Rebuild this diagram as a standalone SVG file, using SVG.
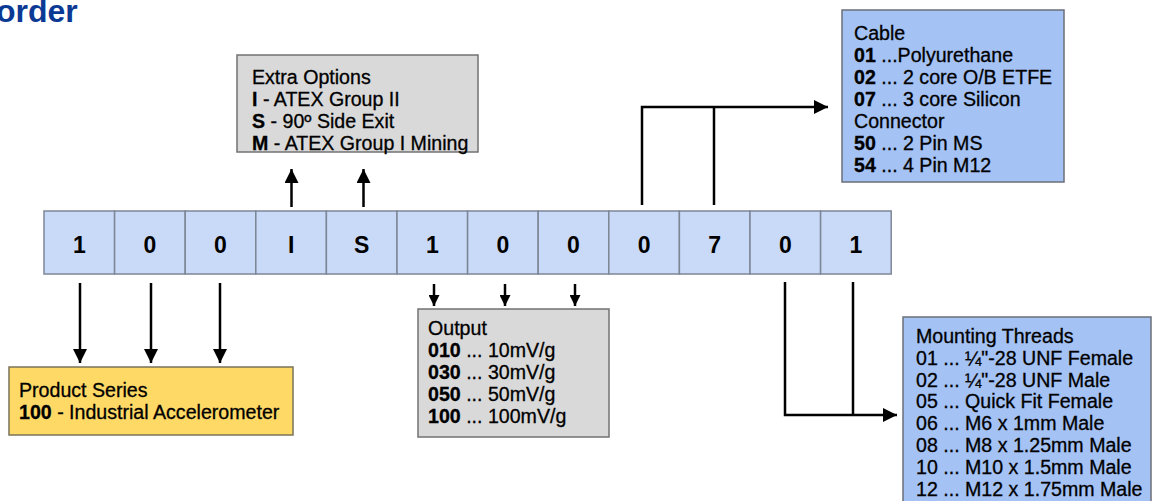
<svg xmlns="http://www.w3.org/2000/svg" width="1154" height="501" viewBox="0 0 1154 501">
<defs>
<style>
.t{font-family:"Liberation Sans",Arial,sans-serif;font-size:19.6px;fill:#000;stroke:#000;stroke-width:0.3}
.b{font-weight:bold}
.cell{fill:#c9daf8;stroke:#7d8796;stroke-width:1.5}
.dig{font-family:"Liberation Sans",Arial,sans-serif;font-size:23px;font-weight:bold;text-anchor:middle;fill:#000}
.blue{fill:#a4c2f4;stroke:#6b6f78;stroke-width:1.5}
.gray{fill:#d9d9d9;stroke:#727272;stroke-width:1.5}
.yel{fill:#ffd966;stroke:#7a7358;stroke-width:1.5}
.ln{fill:none;stroke:#000;stroke-width:2.5}
</style>
<marker id="ah" viewBox="0 0 10 10" refX="10" refY="5" markerWidth="14" markerHeight="14" markerUnits="userSpaceOnUse" orient="auto">
<path d="M0,0 L10,5 L0,10 Z" fill="#000"/>
</marker>
<marker id="ahs" viewBox="0 0 10 10" refX="10" refY="5" markerWidth="11" markerHeight="11" markerUnits="userSpaceOnUse" orient="auto">
<path d="M0,0 L10,5 L0,10 Z" fill="#000"/>
</marker>
</defs>
<rect width="1154" height="501" fill="#fff"/>
<text x="-4" y="22" font-family="Liberation Sans,Arial,sans-serif" font-size="32" font-weight="bold" fill="#0b3a94">order</text>

<g id="code">
<rect class="cell" x="44" y="211" width="70.6" height="63"/>
<rect class="cell" x="114.6" y="211" width="70.6" height="63"/>
<rect class="cell" x="185.2" y="211" width="70.6" height="63"/>
<rect class="cell" x="255.8" y="211" width="70.6" height="63"/>
<rect class="cell" x="326.4" y="211" width="70.6" height="63"/>
<rect class="cell" x="397" y="211" width="70.6" height="63"/>
<rect class="cell" x="467.6" y="211" width="70.6" height="63"/>
<rect class="cell" x="538.2" y="211" width="70.6" height="63"/>
<rect class="cell" x="608.8" y="211" width="70.6" height="63"/>
<rect class="cell" x="679.4" y="211" width="70.6" height="63"/>
<rect class="cell" x="750" y="211" width="70.6" height="63"/>
<rect class="cell" x="820.6" y="211" width="70.6" height="63"/>
<text class="dig" x="79.3" y="253">1</text>
<text class="dig" x="149.9" y="253">0</text>
<text class="dig" x="220.5" y="253">0</text>
<text class="dig" x="291.1" y="253">I</text>
<text class="dig" x="361.7" y="253">S</text>
<text class="dig" x="432.3" y="253">1</text>
<text class="dig" x="502.9" y="253">0</text>
<text class="dig" x="573.5" y="253">0</text>
<text class="dig" x="644.1" y="253">0</text>
<text class="dig" x="714.7" y="253">7</text>
<text class="dig" x="785.3" y="253">0</text>
<text class="dig" x="855.9" y="253">1</text>
</g>

<g id="extra">
<rect class="gray" x="237" y="55" width="241" height="97"/>
<text class="t" x="252" y="84">Extra Options</text>
<text class="t" x="252" y="106"><tspan class="b">I</tspan> - ATEX Group II</text>
<text class="t" x="252" y="128"><tspan class="b">S</tspan> - 90º Side Exit</text>
<text class="t" x="252" y="150"><tspan class="b">M</tspan> - ATEX Group I Mining</text>
</g>

<g id="cable">
<rect class="blue" x="842" y="10" width="222" height="172"/>
<text class="t" x="854" y="40">Cable</text>
<text class="t" x="854" y="62"><tspan class="b">01</tspan> ...Polyurethane</text>
<text class="t" x="854" y="84"><tspan class="b">02</tspan> ... 2 core O/B ETFE</text>
<text class="t" x="854" y="106"><tspan class="b">07</tspan> ... 3 core Silicon</text>
<text class="t" x="854" y="128">Connector</text>
<text class="t" x="854" y="150"><tspan class="b">50</tspan> ... 2 Pin MS</text>
<text class="t" x="854" y="172"><tspan class="b">54</tspan> ... 4 Pin M12</text>
</g>

<g id="product">
<rect class="yel" x="9" y="367" width="284" height="68"/>
<text class="t" x="19" y="397">Product Series</text>
<text class="t" x="19" y="419"><tspan class="b">100</tspan> - Industrial Accelerometer</text>
</g>

<g id="output">
<rect class="gray" x="418" y="309" width="191" height="128"/>
<text class="t" x="428" y="335">Output</text>
<text class="t" x="428" y="357"><tspan class="b">010</tspan> ... 10mV/g</text>
<text class="t" x="428" y="379"><tspan class="b">030</tspan> ... 30mV/g</text>
<text class="t" x="428" y="401"><tspan class="b">050</tspan> ... 50mV/g</text>
<text class="t" x="428" y="423"><tspan class="b">100</tspan> ... 100mV/g</text>
</g>

<g id="mounting">
<rect class="blue" x="903" y="317" width="248" height="200"/>
<text class="t" x="916" y="343">Mounting Threads</text>
<text class="t" x="916" y="364.8">01 ... ¼"-28 UNF Female</text>
<text class="t" x="916" y="386.6">02 ... ¼"-28 UNF Male</text>
<text class="t" x="916" y="408.4">05 ... Quick Fit Female</text>
<text class="t" x="916" y="430.2">06 ... M6 x 1mm Male</text>
<text class="t" x="916" y="452">08 ... M8 x 1.25mm Male</text>
<text class="t" x="916" y="473.8">10 ... M10 x 1.5mm Male</text>
<text class="t" x="916" y="495.6">12 ... M12 x 1.75mm Male</text>
</g>

<g id="connectors">
<line class="ln" x1="291.5" y1="207" x2="291.5" y2="169" marker-end="url(#ah)"/>
<line class="ln" x1="363.5" y1="207" x2="363.5" y2="169" marker-end="url(#ah)"/>
<line class="ln" x1="80" y1="283" x2="80" y2="363" marker-end="url(#ah)"/>
<line class="ln" x1="151" y1="283" x2="151" y2="363" marker-end="url(#ah)"/>
<line class="ln" x1="220" y1="283" x2="220" y2="363" marker-end="url(#ah)"/>
<line class="ln" x1="434" y1="284" x2="434" y2="306" marker-end="url(#ahs)"/>
<line class="ln" x1="505" y1="284" x2="505" y2="306" marker-end="url(#ahs)"/>
<line class="ln" x1="575" y1="284" x2="575" y2="306" marker-end="url(#ahs)"/>
<polyline class="ln" points="642,205 642,107 828,107" marker-end="url(#ah)"/>
<line class="ln" x1="714" y1="205" x2="714" y2="107"/>
<polyline class="ln" points="785,282 785,415 897,415" marker-end="url(#ah)"/>
<line class="ln" x1="853" y1="282" x2="853" y2="415"/>
</g>
</svg>
